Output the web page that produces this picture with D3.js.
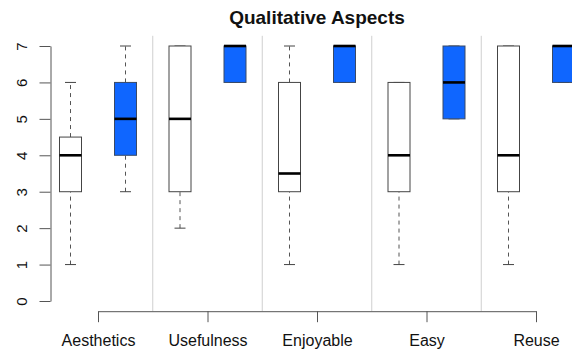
<!DOCTYPE html>
<html>
<head>
<meta charset="utf-8">
<script src="https://cdn.jsdelivr.net/npm/d3@7"></script>
<style>
html,body{margin:0;padding:0;background:#fff;}
svg{display:block;font-family:"Liberation Sans",Arial,Helvetica,sans-serif;}
</style>
</head>
<body>
<svg id="chart" width="572" height="351"></svg>
<script>
// ---- data ----
const categories = ["Aesthetics", "Usefulness", "Enjoyable", "Easy", "Reuse"];
const yTicks = [0, 1, 2, 3, 4, 5, 6, 7];
// five-number summaries: [lowerWhisker, q1, median, q3, upperWhisker]
const seriesA = [
  [1, 3, 4, 4.5, 6],
  [2, 3, 5, 7, 7],
  [1, 3, 3.5, 6, 7],
  [1, 3, 4, 6, 6],
  [1, 3, 4, 7, 7]
];
const seriesB = [
  [3, 4, 5, 6, 7],
  [6, 6, 7, 7, 7],
  [6, 6, 7, 7, 7],
  [5, 5, 6, 7, 7],
  [6, 6, 7, 7, 7]
];
const title = "Qualitative Aspects";

// ---- drawing ----
const svg = d3.select("#chart");
const y = d3.scaleLinear().domain([0, 7]).range([301, 46]);
const plotTop = y(7.28), plotBottom = y(-0.28);
const x = d3.scalePoint().domain(categories).range([98, 536]);
const step = x.step();
const offset = 27.5, boxW = 22;

// separators
svg.append("g").selectAll("line")
  .data(categories.slice(0, -1))
  .join("line")
  .attr("x1", d => x(d) + step / 2).attr("x2", d => x(d) + step / 2)
  .attr("y1", plotTop).attr("y2", plotBottom)
  .attr("stroke", "#cfcfcf").attr("stroke-width", 1);

// y axis
const yAxis = svg.append("g")
  .attr("transform", "translate(50.5,0)")
  .call(d3.axisLeft(y).tickValues(yTicks).tickSize(11).tickSizeOuter(0).tickFormat(d3.format("d")));
yAxis.select(".domain").attr("stroke", "#555");
yAxis.selectAll(".tick line").attr("stroke", "#555");
yAxis.selectAll(".tick text")
  .attr("x", null).attr("dy", null)
  .attr("transform", "translate(-24,0) rotate(-90)")
  .attr("text-anchor", "middle")
  .attr("font-size", 15)
  .attr("fill", "#111");

// x axis
const xAxis = svg.append("g")
  .attr("transform", `translate(0,${plotBottom})`)
  .call(d3.axisBottom(x).tickSize(11).tickSizeOuter(0).tickPadding(0));
xAxis.select(".domain").attr("stroke", "#555");
xAxis.selectAll(".tick line").attr("stroke", "#555");
xAxis.selectAll(".tick text")
  .attr("y", 35).attr("dy", null)
  .attr("font-size", 16)
  .attr("fill", "#111");

function drawBoxes(data, dx, fill, stroke) {
  const g = svg.append("g");
  const grp = g.selectAll("g").data(data).join("g")
    .attr("transform", (d, i) => `translate(${x(categories[i]) + dx},0)`);
  // whiskers (dashed)
  grp.append("line")
    .attr("x1", 0).attr("x2", 0)
    .attr("y1", d => y(d[0])).attr("y2", d => y(d[1]))
    .attr("stroke", "#555").attr("stroke-dasharray", "4,4")
    .attr("display", d => d[0] === d[1] ? "none" : null);
  grp.append("line")
    .attr("x1", 0).attr("x2", 0)
    .attr("y1", d => y(d[3])).attr("y2", d => y(d[4]))
    .attr("stroke", "#555").attr("stroke-dasharray", "4,4")
    .attr("display", d => d[3] === d[4] ? "none" : null);
  // staples
  grp.append("line")
    .attr("x1", -boxW / 4).attr("x2", boxW / 4)
    .attr("y1", d => y(d[0])).attr("y2", d => y(d[0]))
    .attr("stroke", "#444");
  grp.append("line")
    .attr("x1", -boxW / 4).attr("x2", boxW / 4)
    .attr("y1", d => y(d[4])).attr("y2", d => y(d[4]))
    .attr("stroke", "#444");
  // box
  grp.append("rect")
    .attr("x", -boxW / 2).attr("width", boxW)
    .attr("y", d => y(d[3])).attr("height", d => y(d[1]) - y(d[3]))
    .attr("fill", fill).attr("stroke", stroke).attr("stroke-width", 1);
  // median
  grp.append("line")
    .attr("x1", -boxW / 2).attr("x2", boxW / 2)
    .attr("y1", d => y(d[2])).attr("y2", d => y(d[2]))
    .attr("stroke", "#000").attr("stroke-width", 2.6);
}
drawBoxes(seriesA, -offset, "#ffffff", "#444");
drawBoxes(seriesB, offset, "#0f66ff", "#3a4a66");

// title
svg.append("text")
  .attr("x", 317).attr("y", 24)
  .attr("text-anchor", "middle")
  .attr("font-size", 19).attr("font-weight", "bold")
  .attr("fill", "#111")
  .text(title);
</script>
</body>
</html>
